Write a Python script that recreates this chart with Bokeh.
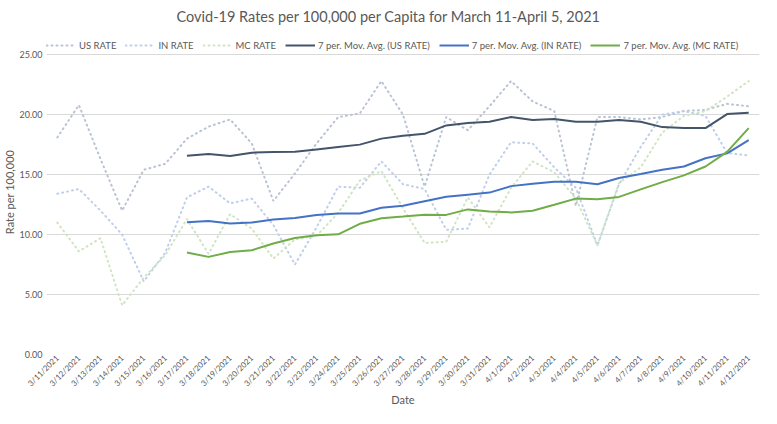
from bokeh.plotting import figure
from bokeh.models import (FactorRange, Range1d, Legend, LegendItem, FixedTicker,
                          NumeralTickFormatter)
from bokeh.embed import file_html
from bokeh.resources import INLINE

dates = ["3/11/2021", "3/12/2021", "3/13/2021", "3/14/2021", "3/15/2021", "3/16/2021",
         "3/17/2021", "3/18/2021", "3/19/2021", "3/20/2021", "3/21/2021", "3/22/2021",
         "3/23/2021", "3/24/2021", "3/25/2021", "3/26/2021", "3/27/2021", "3/28/2021",
         "3/29/2021", "3/30/2021", "3/31/2021", "4/1/2021", "4/2/2021", "4/3/2021",
         "4/4/2021", "4/5/2021", "4/6/2021", "4/7/2021", "4/8/2021", "4/9/2021",
         "4/10/2021", "4/11/2021", "4/12/2021"]

us_rate = [18.1, 20.8, 16.3, 12.0, 15.4, 15.9, 18.0, 19.0, 19.6, 17.6, 12.8, 15.1,
           17.6, 19.8, 20.1, 22.8, 20.0, 14.0, 19.8, 18.7, 20.7, 22.8, 21.1, 20.3,
           12.4, 19.8, 19.8, 19.6, 19.8, 20.3, 20.4, 20.9, 20.7]
in_rate = [13.4, 13.8, 12.0, 10.0, 6.1, 8.5, 13.1, 14.0, 12.6, 13.0, 10.8, 7.5,
           10.6, 14.0, 13.9, 16.1, 14.2, 13.8, 10.4, 10.5, 15.0, 17.7, 17.6, 15.6,
           13.9, 9.1, 14.2, 17.3, 20.0, 20.3, 19.9, 16.8, 16.6]
mc_rate = [11.0, 8.6, 9.7, 4.1, 6.4, 8.3, 11.3, 8.4, 11.7, 10.5, 8.0, 9.6,
           9.9, 11.8, 14.5, 15.3, 12.2, 9.3, 9.4, 13.1, 10.6, 13.9, 16.1, 15.2,
           13.0, 9.1, 14.3, 15.6, 18.5, 19.9, 20.3, 21.5, 22.8]

ma_dates = dates[6:]
us_ma = [16.58, 16.72, 16.56, 16.83, 16.88, 16.9, 17.1, 17.3, 17.5, 18.0, 18.25, 18.4,
         19.1, 19.3, 19.4, 19.8, 19.56, 19.64, 19.4, 19.4, 19.56, 19.4, 18.96, 18.88,
         18.88, 20.05, 20.16]
in_ma = [11.03, 11.14, 10.93, 11.0, 11.25, 11.39, 11.64, 11.75, 11.75, 12.24, 12.4, 12.78,
         13.16, 13.33, 13.5, 14.04, 14.23, 14.4, 14.4, 14.2, 14.72, 15.05, 15.4, 15.68,
         16.36, 16.77, 17.87]
mc_ma = [8.5, 8.14, 8.55, 8.69, 9.26, 9.72, 9.94, 10.02, 10.9, 11.36, 11.5, 11.66,
         11.64, 12.1, 11.93, 11.85, 11.99, 12.48, 13.0, 12.95, 13.14, 13.77, 14.37, 14.94,
         15.68, 16.9, 18.88]

y_ticks = [0, 5, 10, 15, 20, 25]

FONT = "Lato"
GRAY = "#595959"

p = figure(x_range=FactorRange(*dates), y_range=Range1d(0, 27.1),
           width=761, height=408,
           min_border_left=40, min_border_right=2, min_border_top=18, min_border_bottom=40,
           output_backend="svg", toolbar_location=None)

p.title.text = "Covid-19 Rates per 100,000 per Capita for March 11-April 5, 2021"
p.title.align = "left"
p.title.offset = 130
p.title.text_font = FONT
p.title.text_font_size = "14.5px"
p.title.text_font_style = "normal"
p.title.text_color = GRAY

p.outline_line_color = None
p.xgrid.grid_line_color = None
p.ygrid.grid_line_color = "#D9D9D9"
p.ygrid.ticker = FixedTicker(ticks=y_ticks)

p.yaxis.ticker = FixedTicker(ticks=y_ticks)
p.yaxis.formatter = NumeralTickFormatter(format="0.00")
for ax in (p.xaxis[0], p.yaxis[0]):
    ax.axis_line_color = None
    ax.major_tick_line_color = None
    ax.minor_tick_line_color = None
    ax.major_tick_out = 0
    ax.major_tick_in = 0
    ax.major_label_text_font = FONT
    ax.major_label_text_color = GRAY
    ax.axis_label_text_font = FONT
    ax.axis_label_text_color = GRAY
    ax.axis_label_text_font_size = "11px"
    ax.axis_label_text_font_style = "normal"
p.yaxis.major_label_text_font_size = "9px"
p.xaxis.major_label_text_font_size = "8px"
p.yaxis.axis_label = "Rate per 100,000"
p.yaxis.axis_label_standoff = 0
p.yaxis.major_label_standoff = 4
p.xaxis.axis_label = "Date"
p.xaxis.axis_label_standoff = -2
p.xaxis.major_label_standoff = 2
p.xaxis.major_label_orientation = 0.785

dot = dict(line_width=2.0, line_dash="1 4", line_cap="round")
r_us = p.line(dates, us_rate, line_color="#BAC3D3", **dot)
r_in = p.line(dates, in_rate, line_color="#BFCFEB", **dot)
r_mc = p.line(dates, mc_rate, line_color="#CFE5C2", **dot)
r_usma = p.line(ma_dates, us_ma, line_color="#44546A", line_width=2)
r_inma = p.line(ma_dates, in_ma, line_color="#4472C4", line_width=2)
r_mcma = p.line(ma_dates, mc_ma, line_color="#70AD47", line_width=2)

legend = Legend(items=[
    LegendItem(label="US RATE", renderers=[r_us]),
    LegendItem(label="IN RATE", renderers=[r_in]),
    LegendItem(label="MC RATE", renderers=[r_mc]),
    LegendItem(label="7 per. Mov. Avg. (US RATE)", renderers=[r_usma]),
    LegendItem(label="7 per. Mov. Avg. (IN RATE)", renderers=[r_inma]),
    LegendItem(label="7 per. Mov. Avg. (MC RATE)", renderers=[r_mcma]),
], orientation="horizontal", location=(0, 303),
    border_line_color=None, background_fill_alpha=0,
    label_text_font=FONT, label_text_font_size="9.5px", label_text_color=GRAY,
    glyph_width=30, glyph_height=12, label_height=12, label_standoff=3,
    spacing=9, padding=2, margin=0)
p.add_layout(legend, "center")

open("out.html", "w").write(file_html(p, INLINE))
